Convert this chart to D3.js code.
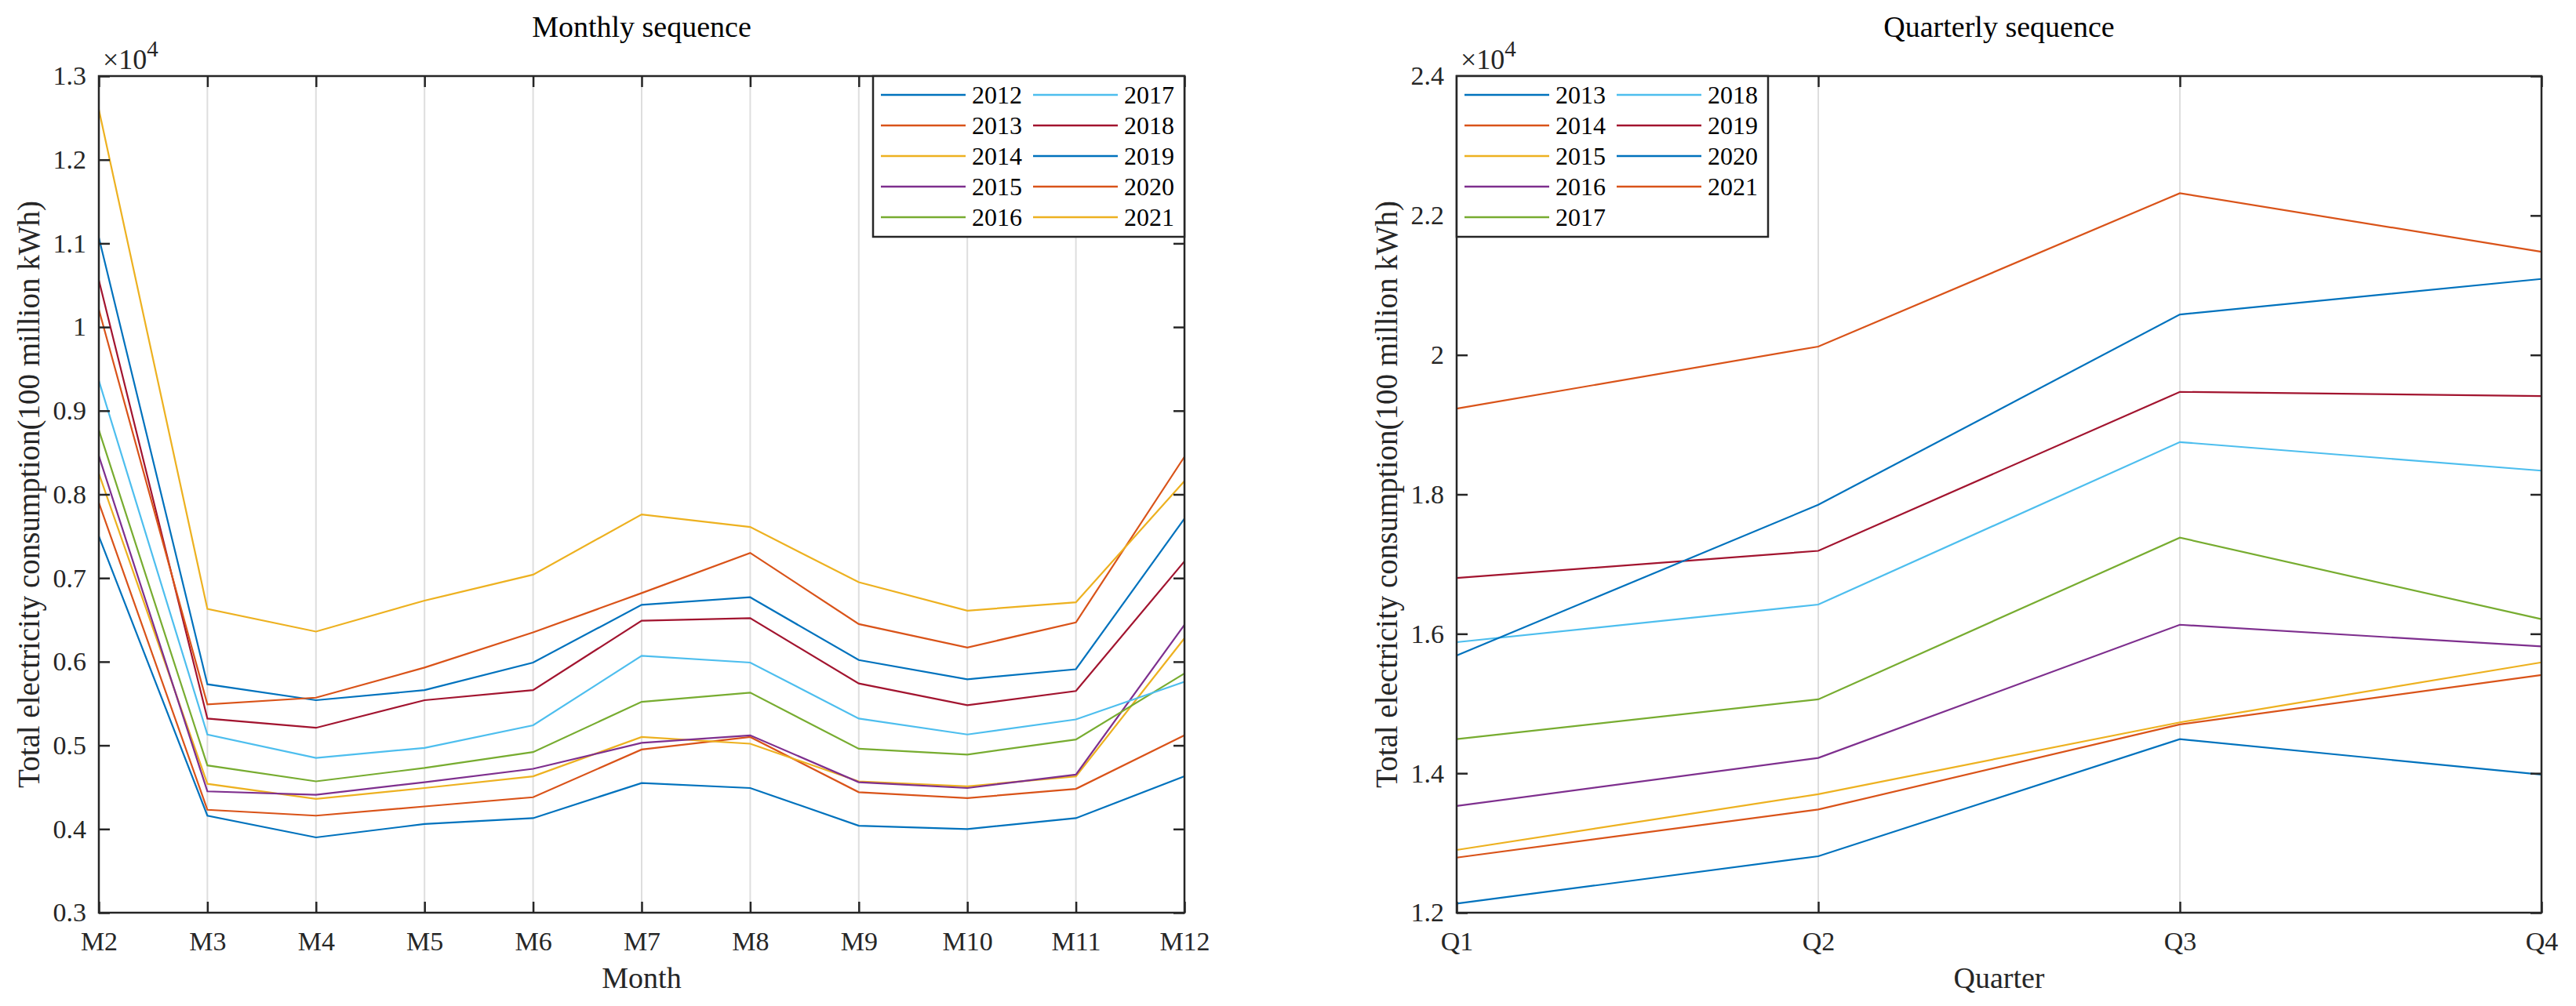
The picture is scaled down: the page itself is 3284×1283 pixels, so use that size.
<!DOCTYPE html>
<html>
<head>
<meta charset="utf-8">
<script src="https://cdn.jsdelivr.net/npm/d3@7"></script>
<style>
  body { margin: 0; background: #fff; }
  svg text { font-family: "Liberation Serif", "Times New Roman", serif; }
</style>
</head>
<body>
<svg id="chart"></svg>
<script>
// Monthly data (100 million kWh), M2 = Jan+Feb
const months = ["M2", "M3", "M4", "M5", "M6", "M7", "M8", "M9", "M10", "M11", "M12"];
const monthYears = ["2012", "2013", "2014", "2015", "2016", "2017", "2018", "2019", "2020", "2021"];
const m2012 = [7500, 4160, 3900, 4060, 4130, 4550, 4490, 4040, 4000, 4130, 4630];
const m2013 = [7900, 4230, 4160, 4270, 4380, 4950, 5100, 4440, 4370, 4480, 5120];
const m2014 = [8250, 4540, 4360, 4490, 4630, 5100, 5020, 4570, 4510, 4630, 6280];
const m2015 = [8460, 4450, 4410, 4560, 4720, 5030, 5120, 4560, 4490, 4650, 6440];
const m2016 = [8770, 4760, 4570, 4730, 4920, 5520, 5630, 4960, 4890, 5070, 5860];
const m2017 = [9360, 5130, 4850, 4970, 5240, 6070, 5990, 5320, 5130, 5310, 5760];
const m2018 = [10560, 5320, 5210, 5540, 5660, 6490, 6520, 5740, 5480, 5650, 7200];
const m2019 = [11070, 5730, 5540, 5660, 5990, 6680, 6770, 6020, 5790, 5910, 7710];
const m2020 = [10210, 5490, 5570, 5930, 6350, 6820, 7300, 6450, 6170, 6470, 8450];
const m2021 = [12600, 6630, 6360, 6730, 7040, 7760, 7610, 6950, 6610, 6710, 8160];
const monthTicks = [3000, 4000, 5000, 6000, 7000, 8000, 9000, 10000, 11000, 12000, 13000];

// Quarterly data
const quarters = ["Q1", "Q2", "Q3", "Q4"];
const quarterYears = ["2013", "2014", "2015", "2016", "2017", "2018", "2019", "2020", "2021"];
const q2013 = [12130, 12810, 14490, 13980];
const q2014 = [12790, 13480, 14700, 15410];
const q2015 = [12900, 13700, 14730, 15590];
const q2016 = [13530, 14220, 16130, 15820];
const q2017 = [14490, 15060, 17380, 16210];
const q2018 = [15880, 16420, 18750, 18340];
const q2019 = [16800, 17190, 19470, 19410];
const q2020 = [15690, 17850, 20580, 21090];
const q2021 = [19230, 20120, 22320, 21480];
const quarterTicks = [12000, 14000, 16000, 18000, 20000, 22000, 24000];

const width = 3284;
const height = 1283;
const plotTop = 97;
const plotBottom = 1164;
const axisColor = "#262626";
const colors = ["#0072BD", "#D95319", "#EDB120", "#7E2F8E", "#77AC30", "#4DBEEE", "#A2142F"];

const svg = d3.select("#chart").attr("width", width).attr("height", height);
svg.append("rect").attr("width", width).attr("height", height).attr("fill", "#fff");

const fmt = (d) => String(+(d / 1e4).toFixed(1));

function styleAxis(g) {
  g.attr("font-size", 34).attr("font-family", null);
  g.select(".domain").remove();
  g.selectAll(".tick line").attr("stroke", axisColor).attr("stroke-width", 2.5);
  g.selectAll(".tick text").attr("fill", axisColor);
}

function drawPanel(o) {
  const x = d3.scalePoint().domain(o.categories).range([o.left, o.right]);
  const y = d3.scaleLinear().domain(o.domain).range([plotBottom, plotTop]);
  const g = svg.append("g");

  // vertical grid
  g.selectAll(".grid")
    .data(o.categories)
    .enter()
    .append("line")
    .attr("x1", (d) => x(d))
    .attr("x2", (d) => x(d))
    .attr("y1", plotTop)
    .attr("y2", plotBottom)
    .attr("stroke", "#dedede")
    .attr("stroke-width", 2);

  // series
  const line = d3
    .line()
    .x((d, i) => x(o.categories[i]))
    .y((d) => y(d));

  g.selectAll(".series")
    .data(o.series)
    .enter()
    .append("path")
    .attr("d", (d) => line(d.values))
    .attr("fill", "none")
    .attr("stroke", (d, i) => colors[i % colors.length])
    .attr("stroke-width", 2.2);

  // axes (ticks point inward like MATLAB)
  g.append("g")
    .attr("transform", `translate(0,${plotBottom})`)
    .call(d3.axisBottom(x).tickSizeInner(-14).tickSizeOuter(0).tickPadding(24))
    .call(styleAxis);
  g.append("g")
    .attr("transform", `translate(0,${plotTop})`)
    .call(d3.axisTop(x).tickSizeInner(-14).tickSizeOuter(0).tickFormat(""))
    .call(styleAxis);
  g.append("g")
    .attr("transform", `translate(${o.left},0)`)
    .call(d3.axisLeft(y).tickValues(o.ticks).tickFormat(fmt).tickSizeInner(-14).tickSizeOuter(0).tickPadding(16))
    .call(styleAxis);
  g.append("g")
    .attr("transform", `translate(${o.right},0)`)
    .call(d3.axisRight(y).tickValues(o.ticks).tickSizeInner(-14).tickSizeOuter(0).tickFormat(""))
    .call(styleAxis);

  // box
  g.append("rect")
    .attr("x", o.left)
    .attr("y", plotTop)
    .attr("width", o.right - o.left)
    .attr("height", plotBottom - plotTop)
    .attr("fill", "none")
    .attr("stroke", axisColor)
    .attr("stroke-width", 2.5);

  // exponent
  const ex = g.append("text").attr("x", o.left + 5).attr("y", 88).attr("fill", axisColor);
  ex.append("tspan").attr("font-size", 36).text("\u00d710");
  ex.append("tspan").attr("font-size", 29).attr("dy", -16).text("4");

  // title and labels
  const cx = (o.left + o.right) / 2;
  g.append("text")
    .attr("x", cx)
    .attr("y", 47)
    .attr("text-anchor", "middle")
    .attr("font-size", 38)
    .attr("fill", "#000")
    .text(o.title);
  g.append("text")
    .attr("x", cx)
    .attr("y", 1260)
    .attr("text-anchor", "middle")
    .attr("font-size", 38)
    .attr("fill", axisColor)
    .text(o.xLabel);
  g.append("text")
    .attr("transform", `translate(${o.left - 76},${(plotTop + plotBottom) / 2}) rotate(-90)`)
    .attr("text-anchor", "middle")
    .attr("font-size", 39)
    .attr("fill", axisColor)
    .text("Total electricity consumption(100 million kWh)");

  // legend, 5 rows, column-major
  const legW = 397;
  const legX = o.legendRight ? o.right - legW : o.left;
  const leg = g.append("g").attr("transform", `translate(${legX},${plotTop})`);
  leg.append("rect")
    .attr("width", legW)
    .attr("height", 205)
    .attr("fill", "#fff")
    .attr("stroke", axisColor)
    .attr("stroke-width", 2.5);
  const item = leg
    .selectAll(".item")
    .data(o.series)
    .enter()
    .append("g")
    .attr("transform", (d, i) => `translate(${Math.floor(i / 5) * 194},${24 + (i % 5) * 39})`);
  item.append("line")
    .attr("x1", 10)
    .attr("x2", 118)
    .attr("stroke", (d, i) => colors[i % colors.length])
    .attr("stroke-width", 2.5);
  item.append("text")
    .attr("x", 126)
    .attr("y", 11)
    .attr("font-size", 32)
    .attr("fill", "#000")
    .text((d) => d.name);
}

drawPanel({
  left: 126,
  right: 1510,
  categories: months,
  domain: [3000, 13000],
  ticks: monthTicks,
  title: "Monthly sequence",
  xLabel: "Month",
  legendRight: true,
  series: [m2012, m2013, m2014, m2015, m2016, m2017, m2018, m2019, m2020, m2021].map((v, i) => ({
    name: monthYears[i],
    values: v,
  })),
});

drawPanel({
  left: 1857,
  right: 3240,
  categories: quarters,
  domain: [12000, 24000],
  ticks: quarterTicks,
  title: "Quarterly sequence",
  xLabel: "Quarter",
  legendRight: false,
  series: [q2013, q2014, q2015, q2016, q2017, q2018, q2019, q2020, q2021].map((v, i) => ({
    name: quarterYears[i],
    values: v,
  })),
});
</script>
</body>
</html>
